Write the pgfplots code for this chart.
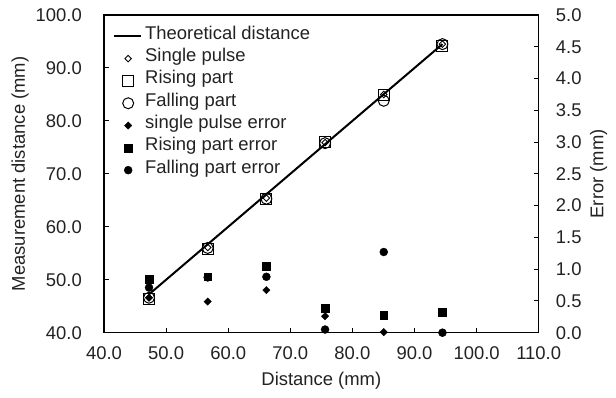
\documentclass[border=0pt]{standalone}
\usepackage{fontspec}
\setmainfont{Liberation Sans}
\usepackage{pgfplots}
\pgfplotsset{compat=1.18}
\definecolor{txt}{HTML}{222222}
\begin{document}
\begin{tikzpicture}[font=\fontsize{18.5}{21}\selectfont]
\pgfplotsset{
  base/.style={
    scale only axis, width=434.7bp, height=317.7bp,
    at={(0,0)}, anchor=south west,
    xmin=40, xmax=110,
    axis line style={line width=1.4bp, black},
    major tick style={line width=1bp, black},
    major tick length=5bp,
    tick align=inside,
    tick label style={font=\fontsize{18.5}{21}\selectfont, text=txt, inner sep=0pt},
    label style={font=\fontsize{18.5}{21}\selectfont, text=txt},
    /pgf/number format/.cd, fixed, fixed zerofill, precision=1, assume math mode=true,
  },
  lgline/.style={legend image code/.code={\draw[##1] (0bp,0bp) -- (27bp,0bp);}},
  lgmark/.style={legend image code/.code={\draw[##1] plot coordinates {(14bp,0bp)};}},
  odia/.style={only marks, mark=square, mark size=2.3bp, mark options={black, line width=0.9bp, rotate=45}},
  fdia/.style={only marks, mark=square*, mark size=2.6bp, mark options={black, rotate=45}},
}
\begin{axis}[base,
  ymin=40, ymax=100,
  xtick={40,50,...,110}, ytick={40,50,...,100},
  xtick pos=bottom, ytick pos=left,
  xticklabel style={anchor=center, yshift=-20bp},
  yticklabel style={anchor=east, xshift=-22bp},
  xlabel={Distance (mm)},
  xlabel style={at={(axis description cs:0.5,0)}, anchor=center, yshift=-48bp},
  ylabel={Measurement distance (mm)},
  ylabel style={at={(axis description cs:-0.1932,0.5)}, anchor=center},
]
\addplot[black, line width=2bp, no marks] coordinates {(47.25,47.25) (94.5,94.5)};
\addplot[odia]
  coordinates {(47.25,46.6) (56.7,56.1) (66.15,65.4) (75.6,75.9) (85.05,85.0) (94.5,94.5)};
\addplot[only marks, mark=square, mark size=5.5bp, mark options={black, line width=1bp}]
  coordinates {(47.25,46.4) (56.7,55.8) (66.15,65.2) (75.6,76.0) (85.05,84.8) (94.5,94.2)};
\addplot[only marks, mark=o, mark size=5.5bp, mark options={black, line width=1bp}]
  coordinates {(47.25,46.6) (56.7,56.0) (66.15,65.3) (75.6,75.8) (85.05,83.8) (94.5,94.5)};
\end{axis}
\begin{axis}[base,
  ymin=0, ymax=5,
  ytick={0,0.5,...,5},
  axis x line=none, axis y line*=right,
  yticklabel style={anchor=west, xshift=17bp},
  ylabel={Error (mm)},
  ylabel style={at={(axis description cs:1.138,0.5)}, anchor=center},
  legend style={draw=none, fill=none, at={(axis description cs:0,1)}, anchor=north west,
    xshift=9bp, yshift=-10bp, inner sep=0pt, row sep=0pt, column sep=3bp,
    font=\fontsize{18.5}{21}\selectfont, text=txt,
    nodes={inner sep=0pt, text height=14bp, text depth=8.3bp}},
  legend cell align=left,
]
\addlegendimage{lgline, black, line width=2bp}
\addlegendimage{lgmark, odia}
\addlegendimage{lgmark, only marks, mark=square, mark size=5.5bp, mark options={black, line width=1bp}}
\addlegendimage{lgmark, only marks, mark=o, mark size=5.5bp, mark options={black, line width=1bp}}
\addlegendimage{lgmark, fdia}
\addlegendimage{lgmark, only marks, mark=square*, mark size=3.9bp, mark options={black}}
\addlegendimage{lgmark, only marks, mark=*, mark size=4bp, mark options={black}}
\addplot[forget plot, fdia]
  coordinates {(47.25,0.55) (56.7,0.49) (66.15,0.67) (75.6,0.26) (85.05,0.01) (94.5,0.0)};
\addplot[forget plot, only marks, mark=square*, mark size=3.9bp, mark options={black}]
  coordinates {(47.25,0.84) (56.7,0.88) (66.15,1.05) (75.6,0.39) (85.05,0.28) (94.5,0.32)};
\addplot[forget plot, only marks, mark=*, mark size=4bp, mark options={black}]
  coordinates {(47.25,0.71) (56.7,0.87) (66.15,0.88) (75.6,0.05) (85.05,1.27) (94.5,0.0)};
\legend{Theoretical distance, Single pulse, Rising part, Falling part, single pulse error, Rising part error, Falling part error}
\end{axis}
\path[use as bounding box] (-104bp,-65.3bp) rectangle (512bp,332.7bp);
\end{tikzpicture}
\end{document}
